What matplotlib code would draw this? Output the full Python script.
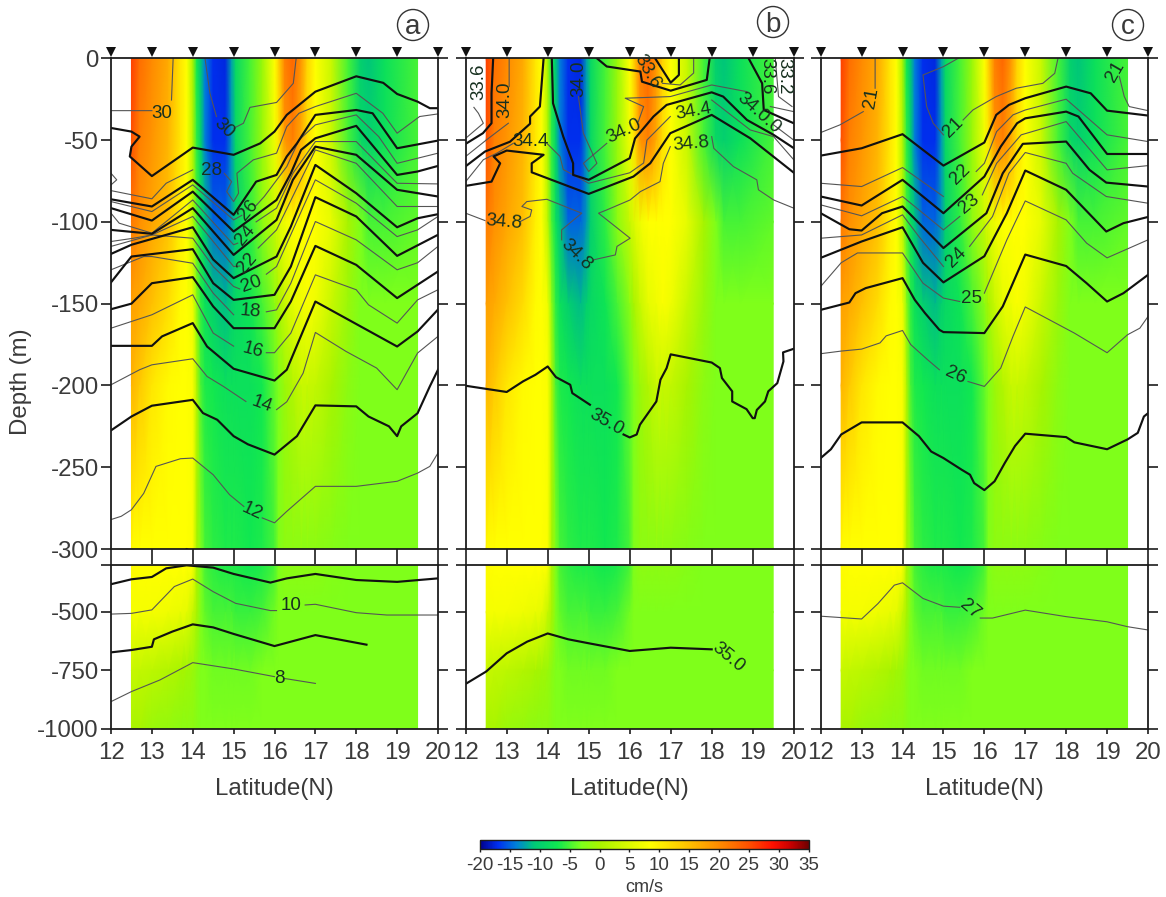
import numpy as np
import matplotlib
matplotlib.use("Agg")
import matplotlib.pyplot as plt
from matplotlib.colors import LinearSegmentedColormap, Normalize
from matplotlib.cm import ScalarMappable
from matplotlib.patches import Ellipse

plt.rcParams['font.family'] = ['Liberation Sans', 'DejaVu Sans']
plt.rcParams['axes.unicode_minus'] = False
n = float('nan')

# ---------- velocity section (cm/s), shared by the three panels ----------
VEL_LAT = [12.5,12.7,13,13.4,13.7,13.85,14,14.1,14.2,14.3,14.5,14.8,14.95,15.05,15.4,15.7,16,16.1,16.25,16.45,16.65,16.8,17,17.4,17.8,18.1,18.3,18.7,19.5]
V0    = [26,22.5,20,17,11,8.5,0,-7,-11,-14,-17,-17.5,-12.5,-9,-5,-1,8.5,13,21,23,19,13,8.5,3,-5,-10,-11,-8,-5]
V50   = [25,21,19,16,11,8.5,1,-6,-10,-14,-17,-17,-13,-9,-5,-1,7,11,19,21,17,12,8.5,3,-5,-9,-10,-8,-5]
V100  = [21.5,19.5,17.5,15,10,8.5,2,-5,-8,-11,-15,-15,-13,-10,-6,-2,3,5,7,8.5,8.5,8.5,8.5,6,0,-3,-5,-5,-4]
V150  = [18,17,15,12,9,8.5,7,-2,-6,-8,-10,-11.5,-10,-9,-7.5,-5,-2,0,3,6,7,8,7,3,-1,-3,-3,-3,-3]
V200  = [16,14,11,9,8.5,8.5,8,1,-5,-6.5,-7,-8,-8,-8,-8,-7,-4,-3,-1,1,3,3,2.5,0,-2,-3,-3,-3,-3]
V300  = [9,8.5,8.5,8.5,8.5,8.5,8,0,-3,-5,-6,-6.5,-6.5,-6.5,-7,-6.5,-5,-3,-2,-2,-2,-2,-2,-2.5,-3,-3,-3,-3,-3]
V500  = [7.5,7.5,7.5,7,6.5,6,3,0,-3,-4,-5,-5,-5,-5.5,-5.5,-5,-3.5,-3,-3,-3,-3,-3,-3,-3,-3,-3,-3,-3,-3]
V750  = [3,2.5,2,1,0,-0.5,-1,-2,-3,-3,-3.5,-3.5,-3.5,-3.5,-3.5,-3,-3,-3,-3,-3,-3,-3,-3,-3,-3,-3,-3,-3,-3]
V1000 = [0,0,-1,-1.5,-2,-2,-2,-2.5,-3,-3,-3,-3,-3,-3,-3,-3,-3,-3,-3,-3,-3,-3,-3,-3,-3,-3,-3,-3,-3]
UP_DEPTHS = [0,50,100,150,200,300]
LOW_DEPTHS = [300,500,750,1000]

CMAP_VALUES = [-20,-17,-14,-11,-7,-3,0,8.5,15,21,25,29,32,35]
CMAP_COLORS = ['#00008c','#0030f0','#0080d8','#00c878','#10e850','#7fff1a','#a8f400','#ffff00','#ffc000','#ff8000','#ff5000','#ff1000','#c80000','#700000']
CB_TICKS = [-20,-15,-10,-5,0,5,10,15,20,25,30,35]
STATIONS = [12,13,14,15,16,17,18,19,20]

# ---------- panel a: temperature isolines (lat, depth) ----------
A30_LAT = [12,13,n,13.52,13.48,n,14.3,14.42,14.58,n,15,15.24,15.4,16.05,16.46,16.53]
A30_DEP = [32,32,n,0,25.5,n,0,21.4,35.6,n,42.8,39.7,30,27,15.3,0]
A29_LAT = [12,12.5,12.7,12.5,12.46,13,14,15,15.65,16,16.3,17,18,18.66,19,19.5,19.8,20]
A29_DEP = [42.6,44.8,47.9,54,60,72,54.6,59,52,44.8,34.6,20.4,11,15,21.8,26.5,30.5,30.5]
A28_LAT = [12,12.14,12,n,12,13,13.35,14,n,14.77,14.95,14.83,15,15.12,15.08,15.48,16.05,16.3,16.6,17,18,18.65,19,19.55,20]
A28_DEP = [70.3,74.3,77.4,n,80.9,85.9,76.4,68.2,n,70.3,75.4,81.5,87.6,82.5,70.3,62.1,58,41.8,33.6,29.5,21.4,33.6,45.8,35.6,34]
A27_LAT = [12,13,14,15,15.55,16.05,16.3,16.55,17,18,18.4,19,20]
A27_DEP = [86.2,90.6,74.3,95.7,75.4,71.3,60,52,34.6,31.6,33.6,55,50.3]
A26_LAT = [12,13,14,15,15.2,n,15.55,15.75,16.3,16.6,17,18,18.55,19,20]
A26_DEP = [87.6,93.7,77.4,98.8,96,n,90,84.5,66.2,49.9,40.7,34.6,47.9,64.2,58]
A25_LAT = [12,13,14,15,16.05,16.4,16.65,17,18,19,19.5,20]
A25_DEP = [91.6,99.2,81.5,105.9,86.6,70.3,56,48.9,41.3,71.3,69.2,65.8]
A24_LAT = [12,12.2,13,14,15,15.1,n,15.55,16.05,16.45,17,18,19,20]
A24_DEP = [94.7,100.8,106.9,86.6,114,113,n,100,91.6,70.3,50.9,50.9,76.4,76.8]
A23_LAT = [12,13,14,15,16.05,16.45,17,18,19,20]
A23_DEP = [104.9,107.3,91.6,120.2,98.8,74.3,54,59,80.4,84.5]
A22_LAT = [12,12.55,13,14,15,15.15,n,15.6,16.05,17,18,19,20]
A22_DEP = [112,110,108,96.7,127.3,127,n,116,104.9,56,64.2,90.6,90.6]
A21_LAT = [12,12.5,14,14.5,15,16.05,16.4,17,18,19,19.5,20]
A21_DEP = [119.6,114,103.3,123,134.4,121.2,102.9,65.2,82.5,103.3,97.8,95.3]
A20_LAT = [12,13,14,14.5,15,15.15,n,15.8,16.05,17,18,19,19.5,20]
A20_DEP = [115,108,110,127.3,139.5,141,n,132,127.3,74.3,88.6,109,104.9,96.7]
A19_LAT = [12,12.5,14,14.5,15,16,16.4,17,18,19,20]
A19_DEP = [137,121.2,116.7,137.5,147.7,144.6,127.3,84.9,96.7,120.8,107.9]
A18_LAT = [12,12.8,13,14,14.5,15,n,15.8,16.05,16.4,17,18,19,19.5,20]
A18_DEP = [129.3,121.2,121.2,125.3,143.6,156.8,n,155,153.8,137.5,99.8,111,129.3,125,115]
A17_LAT = [12,12.5,13,14,14.5,15,16,16.4,17,18,19,20]
A17_DEP = [153.4,150,137.5,133.8,151.7,165,165,148.7,114.7,126.3,146.6,130.3]
A16_LAT = [12,13,14,14.5,15,n,15.8,16,16.4,17,18,18.3,19,19.5,20]
A16_DEP = [165,156.8,144.6,168,176,n,180,180,168,132.4,141.5,150.7,161.9,147.7,141.5]
A15_LAT = [12,13,13.25,14,14.35,15,16,16.3,17,19,19.5,20]
A15_DEP = [175.8,175.8,170,161.9,176.2,189.8,197,190.4,148.7,176.2,167,153.6]
A14_LAT = [12,12.7,13,14,14.35,14.75,15.3,n,16.05,16.3,16.7,17,17.75,18.5,19,19.5,20]
A14_DEP = [199.6,190.4,187.4,183.7,194.5,200.6,209.8,n,214.8,210,192.5,167.6,179.2,189.4,202.6,180.2,170]
A13_LAT = [12,12.5,13,14,14.25,14.6,15,15.35,16,16.55,17,18,18.3,18.8,19,19.1,19.5,19.8,20]
A13_DEP = [227.5,219,212.4,208.8,216.9,221,231,236,242.3,231,212.2,212.8,219,225,231,225,217,200.6,190.4]
A12_LAT = [12,12.25,12.5,12.8,13.1,13.7,14,14.5,14.9,15.25,n,15.7,16,16.3,17,18,19,19.5,19.8,20]
A12_DEP = [282,280,276,266,249.5,244.8,244.4,254.6,266.8,274,n,281,284,277,261.7,261.7,258.6,253.6,249.5,241.3]
A11_LAT = [12,12.5,13,13.35,13.85,14.5,15,15.9,16.3,17,18,19,20]
A11_DEP = [381,360,350,313,300,310,337,374,356,337,363,371,356]
A10_LAT = [12,12.5,13,13.55,14,14.5,15.05,15.9,16.05,n,16.75,17,18,18.75,20]
A10_DEP = [509,506,491,391,359,413,463,494,494,n,470,467,503,513,513]
A9_LAT = [12,12.5,13,13.05,13.5,14,14.5,15,16,17,18.25]
A9_DEP = [673,663,649,617,584,553,566,594,646,599,640]
A8_LAT = [12,12.5,13.2,14,15,16,n,16.25,17]
A8_DEP = [884,841,791,717,744,777,n,785,806]
A_LABELS = ['30','30','28','26','24','22','20','18','16','14','12','10','8']
A_LABEL_LAT = [13.24,14.75,14.46,15.36,15.28,15.34,15.44,15.42,15.48,15.69,15.44,16.4,16.12]
A_LABEL_DEP = [33.6,42.8,68.8,93,108,125,138,155,178.6,211.8,277,474,784]
A_LABEL_ROT = [0,-45,0,50,50,50,20,-5,-15,-20,-25,0,0]

# ---------- panel b: salinity isolines ----------
B1_LAT = [12,12.42,12.63,12.63,12.67]
B1_DEP = [52.3,45.8,39.7,21.4,0]
B2_LAT = [12,12.47,13.08,13.57,13.57,13.81,13.9]
B2_DEP = [66,57,51,40,35.6,29.5,0]
B3_LAT = [14.1,14.13,14.38,14.62,14.62,15,16,16.13,16.58,16.9,18,18.28,18.86,19.51,20]
B3_DEP = [0,27.5,47.9,64.2,71.3,74.3,61.1,49,35.6,28.5,20.8,23.4,37.7,46.8,54.9]
B4_LAT = [12,12.63,12.84,12.68,13,13.9,13.61,13.61,15,16.09,16.5,16.99,18,18.94,20]
B4_DEP = [78,75.4,64.2,60,56.4,59,64.2,69.7,82.9,72.3,64.2,45.8,34.6,48.9,69.9]
B5_LAT = [15.2,15.44,16.26,16.3,17,17.88,17.95]
B5_DEP = [0,5,8.1,14.3,19.8,13.2,0]
B6_LAT = [16.62,17,17.2,17.2]
B6_DEP = [0,14.9,10.2,0]
B7_LAT = [18.9,19.23,19.27,20]
B7_DEP = [0,15.3,31.6,39.7]
B350_LAT = [12,13,13.4,13.7,14,14.2,14.55,14.6,15.03,n,15.85,16,16.17,16.25,16.45,16.65,16.75,16.9,17,18,18.2,18.25,18.5,18.5,18.85,19,19.05,19.1,19.3,19.38,19.6,19.75,19.74,20]
B350_DEP = [200.2,204,197.5,193.5,188.4,194.9,199.6,204.7,211.8,n,230,231.8,230,224,216.9,209.8,196.5,189.4,181,186,189.4,195.5,203.6,209.8,214.5,220,220,215,209.8,203.6,198.6,185.3,179.8,177.6]
B350L_LAT = [12,12.5,13,13.5,14,14.5,15,16,17,18]
B350L_DEP = [808,755,677,627,592,617,634,667,653,660]
BT1_LAT = [12,12.43,12.31,12.2]
BT1_DEP = [48.9,39.7,33.6,30]
BT2_LAT = [12,12.5,13.04,n,13.06,13.06]
BT2_DEP = [60,50,39.7,n,17.3,0]
BT3_LAT = [12,12.43,12.76,13.16,n,13.98,14.3,14.38,15,16,16.34,16.42,16.99,n,18,18.94,19.51,20]
BT3_DEP = [75.4,62,58,52,n,52,60,68,76.4,70,64,50,35.6,n,25.5,43.8,47.9,62]
BT4_LAT = [14.75,14.87,15.2,15,14.87,15.44,n,16.21,16.34,15.89,16.99,18,18.86]
BT4_DEP = [23.4,45.8,64.2,69.2,64.2,52,n,38.7,29.5,24.4,23.4,16.3,20.4]
BT5_LAT = [12,12.47,n,13.33,13.57,13.61,13.37,13.49,13.98,14.83,14.34,14.34,n,15.12,15.65,15.69,16.01,15.24,15.44,16.01,16.26,16.74,16.82,16.99,n,18,18.05,18.53,19.1,19.14,19.51,20]
BT5_DEP = [94.7,99.2,n,99.8,96.7,92.7,90.6,87.6,86.2,94.7,104.9,111,n,123.2,120.2,115,110,94.7,92.7,86.6,81.5,75.4,64.2,54,n,47.9,55,66.2,74.3,80.4,86.6,91.6]
BT6_LAT = [17.56,17.56,17.23,16.8]
BT6_DEP = [0,9,16.3,15.3]
BT7_LAT = [19.43,20]
BT7_DEP = [29.5,32.6]
BT8_LAT = [19.51,20]
BT8_DEP = [40.7,50]
BT9_LAT = [19.55,19.63,19.96]
BT9_DEP = [0,23.4,29.5]
B_LABELS = ['33.6','34.0','34.4','34.0','34.0','34.4','34.8','34.8','34.8','33.6','33.2','33.6','34.0.0','35.0','35.0']
B_LABEL_LAT = [12.31,12.96,13.57,14.75,15.85,17.56,17.51,12.93,14.71,16.43,19.75,19.35,19.15,15.44,18.4]
B_LABEL_DEP = [14.3,25.5,51,12.2,44.8,32.6,52.3,100.4,120,8.1,11.2,11.2,33.6,222.6,694]
B_LABEL_ROT = [90,90,0,90,25,10,5,-5,-45,-60,-90,-90,-42,-30,-40]

# ---------- panel c: density isolines ----------
C1_LAT = [12,12.47,13.04,n,13.33,13.33]
C1_DEP = [45.4,40.7,32.6,n,18.3,0]
C2_LAT = [15.36,15,14.5,14.59,14.75,15,n,15.48,15.72,16.29,16.78,17.43,17.72,17.8]
C2_DEP = [0,5.1,10.2,29.5,39.7,46.8,n,37.7,31.6,23.4,18.3,15.3,9.2,0]
C3_LAT = [19.3,19.42,19.54,20]
C3_DEP = [11.2,23.4,29.5,32]
C4_LAT = [12,13,14,15,16,16.29,16.6,17,18,18.6,19,20]
C4_DEP = [59.5,55,46.4,65.6,51.5,34.6,28.5,24.4,17.3,21.4,32,35]
C5_LAT = [12,13,14,15,n,15.8,16,16.3,16.7,17,18,19,20]
C5_DEP = [76.4,78.4,66.8,84.5,n,69.2,64.2,44.8,34.6,31.6,25,46.8,50.9]
C6_LAT = [12,13,14,15,16,16.4,16.8,17,18,18.3,19,20]
C6_DEP = [84.5,90,74.3,94.7,72.3,54,39.7,36.7,32.6,35.6,58.5,58.5]
C7_LAT = [12,13,14,15,15.4,n,15.95,16.3,16.9,18,19,20]
C7_DEP = [89.6,96.3,84.5,104.9,96.7,n,83.5,64.2,46.8,38.7,68.2,65.6]
C8_LAT = [12,12.7,13,13.5,14,15,16.05,16.45,16.94,18,18.57,18.98,20]
C8_DEP = [94.7,104.5,105.3,94.7,90.6,116,94.7,70.3,52.3,50.9,68.2,76,78.4]
C9_LAT = [12,13,14,14.4,15,n,15.64,16.2,16.6,17,18,18.16,18.98,20]
C9_DEP = [110,108,95.7,109,127.3,n,115,96.7,70.3,57.6,64.2,70.3,84.5,88.6]
C10_LAT = [12,13,14,14.5,15,16,16.55,17,18,18.98,19.4,20]
C10_DEP = [122,112,103.3,125,137,121,94.7,68.6,80.4,105.9,100.8,97]
C11_LAT = [12,12.5,12.9,14,14.5,15,15.4,n,16,16.55,17,18,18.5,19,20]
C11_DEP = [139.5,125,119,119,137.5,146.6,148.7,n,143.6,111,87.2,98.8,113,122,111]
C12_LAT = [12,12.7,12.85,13.1,14,14.3,14.55,14.9,15,16,16.45,17,18,18.5,19,19.4,20]
C12_DEP = [153.8,149.3,143.6,140.5,134.4,147.7,155.8,166,167.4,168,151.7,120,127,137.5,148.7,143.6,132.4]
C13_LAT = [12,12.5,13,13.45,13.6,14,14.2,14.6,14.9,n,15.6,16,16.4,16.7,17,18.2,19,19.5,19.8,20]
C13_DEP = [180.6,179,177.8,174,169.7,166.4,175,184,190.4,n,197.6,200.6,189.4,170,152,168,180,169,165,157.9]
C14_LAT = [12,12.25,12.5,13,14,14.4,14.7,15,15.45,15.65,15.75,16,16.25,16.5,16.75,17,18,18.2,19,19.5,19.75,19.9,20]
C14_DEP = [244.4,239,230,222.6,222.6,231,240.4,244.4,251.6,254.6,259.7,264,258.6,247.4,237,229.5,231.6,234.8,239,233,229,219,217]
C27_LAT = [12,13,13.4,13.8,14,14.5,15,15.4,n,15.9,16.2,17,18,19,19.5,20]
C27_DEP = [518,530,464,385,375,442,475,480,n,526,526,492,520,542,563,577]
C_LABELS = ['21','21','21','22','23','24','25','26','27']
C_LABEL_LAT = [13.25,15.24,19.19,15.4,15.63,15.32,15.68,15.3,15.65]
C_LABEL_DEP = [24.4,42,8.1,71,89,122,147,194,489]
C_LABEL_ROT = [80,45,60,45,40,45,0,-25,-40]

# ---------- layout in pixels of the reference ----------
W, H = 1166, 897
PANEL_X = [(111, 438), (465.7, 793.7), (820.7, 1148)]
UP_Y = (58.3, 549)
LOW_Y = (565.3, 728.7)
TEXT = '#3a3a3a'
DARK = '#1c1c1c'

def axpx(x0, x1, y0, y1):
    return [x0 / W, 1 - y1 / H, (x1 - x0) / W, (y1 - y0) / H]

cmap = LinearSegmentedColormap.from_list(
    'vel', [((v + 20) / 55, c) for v, c in zip(CMAP_VALUES, CMAP_COLORS)], N=512)
norm = Normalize(-20, 35)

fig = plt.figure(figsize=(W / 100, H / 100), dpi=100)

panels = [
    dict(bold=[(A29_LAT,A29_DEP),(A27_LAT,A27_DEP),(A25_LAT,A25_DEP),(A23_LAT,A23_DEP),(A21_LAT,A21_DEP),
               (A19_LAT,A19_DEP),(A17_LAT,A17_DEP),(A15_LAT,A15_DEP),(A13_LAT,A13_DEP),(A11_LAT,A11_DEP),(A9_LAT,A9_DEP)],
         thin=[(A30_LAT,A30_DEP),(A28_LAT,A28_DEP),(A26_LAT,A26_DEP),(A24_LAT,A24_DEP),(A22_LAT,A22_DEP),
               (A20_LAT,A20_DEP),(A18_LAT,A18_DEP),(A16_LAT,A16_DEP),(A14_LAT,A14_DEP),(A12_LAT,A12_DEP),(A10_LAT,A10_DEP),(A8_LAT,A8_DEP)],
         labels=(A_LABELS,A_LABEL_LAT,A_LABEL_DEP,A_LABEL_ROT), tag='a', tag_xy=(413,25)),
    dict(bold=[(B1_LAT,B1_DEP),(B2_LAT,B2_DEP),(B3_LAT,B3_DEP),(B4_LAT,B4_DEP),(B5_LAT,B5_DEP),(B6_LAT,B6_DEP),
               (B7_LAT,B7_DEP),(B350_LAT,B350_DEP),(B350L_LAT,B350L_DEP)],
         thin=[(BT1_LAT,BT1_DEP),(BT2_LAT,BT2_DEP),(BT3_LAT,BT3_DEP),(BT4_LAT,BT4_DEP),(BT5_LAT,BT5_DEP),
               (BT6_LAT,BT6_DEP),(BT7_LAT,BT7_DEP),(BT8_LAT,BT8_DEP),(BT9_LAT,BT9_DEP)],
         labels=(B_LABELS,B_LABEL_LAT,B_LABEL_DEP,B_LABEL_ROT), tag='b', tag_xy=(773,22)),
    dict(bold=[(C4_LAT,C4_DEP),(C6_LAT,C6_DEP),(C8_LAT,C8_DEP),(C10_LAT,C10_DEP),(C12_LAT,C12_DEP),(C14_LAT,C14_DEP)],
         thin=[(C1_LAT,C1_DEP),(C2_LAT,C2_DEP),(C3_LAT,C3_DEP),(C5_LAT,C5_DEP),(C7_LAT,C7_DEP),(C9_LAT,C9_DEP),
               (C11_LAT,C11_DEP),(C13_LAT,C13_DEP),(C27_LAT,C27_DEP)],
         labels=(C_LABELS,C_LABEL_LAT,C_LABEL_DEP,C_LABEL_ROT), tag='c', tag_xy=(1128,25)),
]

up_field = np.array([V0, V50, V100, V150, V200, V300])
low_field = np.array([V300, V500, V750, V1000])

for i, (p, (x0, x1)) in enumerate(zip(panels, PANEL_X)):
    up = fig.add_axes(axpx(x0, x1, *UP_Y))
    low = fig.add_axes(axpx(x0, x1, *LOW_Y))
    up.pcolormesh(VEL_LAT, -np.array(UP_DEPTHS), up_field, cmap=cmap, norm=norm, shading='gouraud', zorder=1)
    low.pcolormesh(VEL_LAT, -np.array(LOW_DEPTHS), low_field, cmap=cmap, norm=norm, shading='gouraud', zorder=1)
    up.set_ylim(-300, 0)
    low.set_ylim(-1000, -300)
    for ax in (up, low):
        ax.set_xlim(12, 20)
        ax.set_xticks(STATIONS)
        for lat, dep in p['bold']:
            ax.plot(lat, -np.array(dep), color='#111111', lw=1.55, zorder=3, solid_joinstyle='round')
        for lat, dep in p['thin']:
            ax.plot(lat, -np.array(dep), color='#555555', lw=0.8, zorder=2.5, solid_joinstyle='round')
        for s in ax.spines.values():
            s.set_linewidth(1.3)
            s.set_color(DARK)
            s.set_zorder(5)
    for txt, la, de, ro in zip(*p['labels']):
        ax = up if de <= 300 else low
        ax.text(la, -de, txt, rotation=ro, ha='center', va='center', fontsize=13.5,
                color='#17301f', rotation_mode='anchor', zorder=6)
    up.set_yticks([0, -50, -100, -150, -200, -250, -300])
    low.set_yticks([-300, -500, -750, -1000])
    up.tick_params(axis='y', left=True, right=True, direction='out', length=7.2, width=1.2, color=DARK,
                   labelleft=(i == 0), labelsize=17.3, labelcolor=TEXT, pad=1.5)
    low.tick_params(axis='y', left=True, right=True, direction='out', length=7.2, width=1.2, color=DARK,
                    labelleft=(i == 0), labelsize=17.3, labelcolor=TEXT, pad=1.5)
    if i == 0:
        low.set_yticklabels(['', '-500', '-750', '-1000'])
    up.tick_params(axis='x', bottom=True, direction='out', length=10.5, width=1.2, color=DARK, labelbottom=False)
    low.tick_params(axis='x', bottom=True, direction='out', length=3.6, width=1.2, color=DARK,
                    labelsize=17.3, labelcolor=TEXT, pad=6)
    up.plot(STATIONS, [3.9] * len(STATIONS), linestyle='none', marker='v', color='#111111', ms=7.6,
            mew=0, clip_on=False, zorder=6)
    low.set_xlabel('Latitude(N)', fontsize=17.3, color=TEXT, labelpad=10)
    if i == 0:
        fig.text(21 / W, 1 - 382 / H, 'Depth (m)', rotation=90, ha='center', va='center',
                 fontsize=17.3, color=TEXT)
    tx, ty = p['tag_xy']
    fig.add_artist(Ellipse((tx / W, 1 - ty / H), 31 / W, 31 / H, transform=fig.transFigure,
                           fill=False, ec='#333333', lw=1.0))
    fig.text(tx / W, 1 - (ty - 0.5) / H, p['tag'], ha='center', va='center_baseline',
             fontsize=20, color=TEXT)

cax = fig.add_axes(axpx(480, 808.7, 840, 849))
cb = fig.colorbar(ScalarMappable(norm=norm, cmap=cmap), cax=cax, orientation='horizontal', ticks=CB_TICKS)
cb.outline.set_linewidth(1.0)
cb.outline.set_edgecolor(DARK)
cax.tick_params(axis='x', length=2.5, width=1, color=DARK, labelsize=13.5, labelcolor=TEXT, pad=3)
cb.set_label('cm/s', fontsize=13, color=TEXT, labelpad=4)

fig.savefig('out.png', dpi=100)
